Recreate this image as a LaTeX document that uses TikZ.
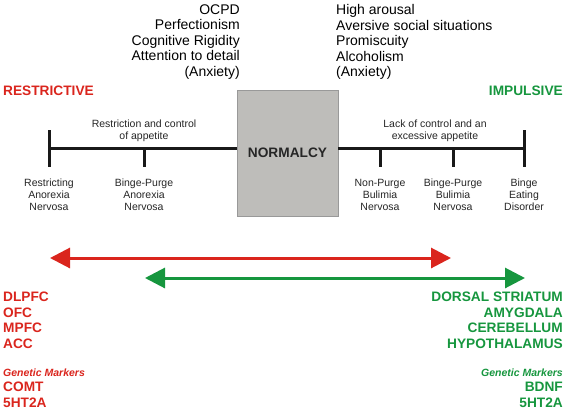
\documentclass[tikz,border=0pt]{standalone}
\usepackage{fontspec}
\setmainfont{Liberation Sans}
\usetikzlibrary{arrows.meta}
\definecolor{restred}{RGB}{218,37,29}
\definecolor{impgreen}{RGB}{22,150,62}
\definecolor{boxgray}{RGB}{190,189,186}

\begin{document}
\begin{tikzpicture}[x=1pt,y=-1pt,
  trait/.style={inner sep=0pt,font=\fontsize{14}{15.5}\selectfont},
  pole/.style={inner sep=0pt,font=\fontsize{13.7}{15}\selectfont\bfseries},
  small/.style={inner sep=0pt,align=center,text=black!85,font=\fontsize{10.5}{12}\selectfont},
  region/.style={inner sep=0pt,font=\fontsize{13.7}{15.5}\selectfont\bfseries},
  gene/.style={inner sep=0pt,font=\fontsize{10.5}{12}\selectfont\bfseries\itshape},
  axis/.style={line width=3pt,black!90},
  span/.style={line width=3pt,{Triangle[length=20pt,width=20pt]}-{Triangle[length=20pt,width=20pt]}}]
  \useasboundingbox (0,0) rectangle (567,410);

  % traits above the two sides
  \node[trait,align=right,anchor=north east] (obs) at (240,4.5) {OCPD\\Perfectionism\\Cognitive Rigidity\\Attention to detail\\(Anxiety)};
  \node[trait,align=left,anchor=north west] (arous) at (336,4.5) {High arousal\\Aversive social situations\\Promiscuity\\Alcoholism\\(Anxiety)};
  \node[pole,anchor=west,text=restred] (restr) at (3,91) {RESTRICTIVE};
  \node[pole,anchor=east,text=impgreen] (impul) at (563,91) {IMPULSIVE};

  % spectrum
  \node[draw=black!40,line width=0.8pt,fill=boxgray,minimum width=101pt,minimum height=126pt,inner sep=0pt,
    font=\fontsize{13.7}{15}\selectfont\bfseries,text=black!85] (norm) at (287.5,153) {NORMALCY};
  \node[small,anchor=south] (rca) at (144,141.5) {Restriction and control\\of appetite};
  \node[small,anchor=south] (lca) at (435,141.5) {Lack of control and an\\excessive appetite};
  \node[small,anchor=north] (ran) at (49,179) {Restricting\\Anorexia\\Nervosa};
  \node[small,anchor=north] (bpan) at (144,179) {Binge-Purge\\Anorexia\\Nervosa};
  \node[small,anchor=north] (npbn) at (380,179) {Non-Purge\\Bulimia\\Nervosa};
  \node[small,anchor=north] (bpbn) at (453,179) {Binge-Purge\\Bulimia\\Nervosa};
  \node[small,anchor=north] (bed) at (524,179) {Binge\\Eating\\Disorder};
  \coordinate (axl) at (49,148);
  \coordinate (axr) at (524,148);
  \coordinate (ranT) at (49,130);
  \coordinate (bedT) at (524,130);
  \draw[axis] (axl) -- (axl -| norm.west);
  \draw[axis] (axr -| norm.east) -- (axr);
  \draw[axis,shorten >=12pt] (ranT) -- (ran);
  \draw[axis,shorten >=12pt] (bedT) -- (bed);
  \draw[axis,shorten >=12pt] (axl -| bpan) -- (bpan);
  \draw[axis,shorten >=12pt] (axl -| npbn) -- (npbn);
  \draw[axis,shorten >=12pt] (axl -| bpbn) -- (bpbn);

  % ranges
  \coordinate (rs) at (50,258);
  \coordinate (re) at (451,258);
  \coordinate (gs) at (145,278);
  \coordinate (ge) at (525,278);
  \draw[span,restred] (rs) -- (re);
  \draw[span,impgreen] (gs) -- (ge);

  % brain regions and markers
  \node[region,align=left,anchor=north west,text=restred] (pfc) at (3,292) {DLPFC\\OFC\\MPFC\\ACC};
  \node[gene,anchor=west,text=restred] (rgen) at (3,373) {Genetic Markers};
  \node[region,align=left,anchor=north west,text=restred] (rmark) at (3,382) {COMT\\5HT2A};
  \node[region,align=right,anchor=north east,text=impgreen] (sub) at (563,292) {DORSAL STRIATUM\\AMYGDALA\\CEREBELLUM\\HYPOTHALAMUS};
  \node[gene,anchor=east,text=impgreen] (ggen) at (563,373) {Genetic Markers};
  \node[region,align=right,anchor=north east,text=impgreen] (gmark) at (563,382) {BDNF\\5HT2A};
\end{tikzpicture}
\end{document}
